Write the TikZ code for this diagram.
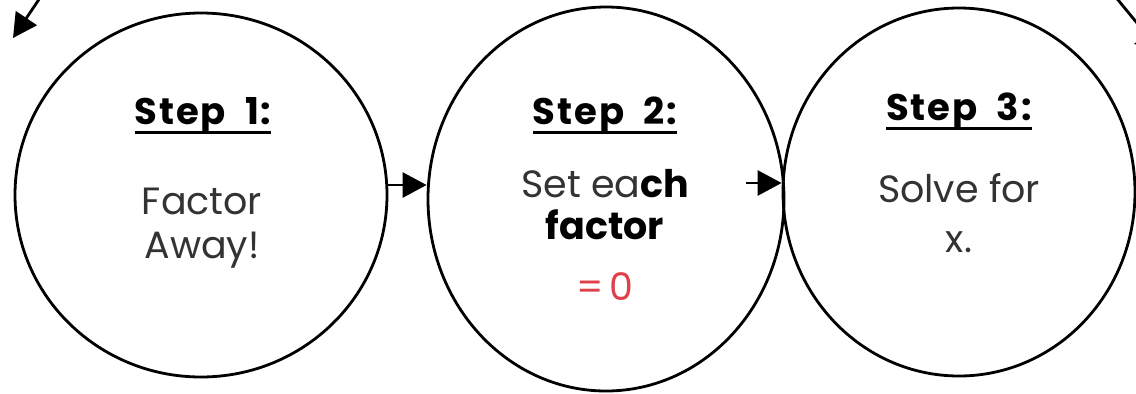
\documentclass[tikz,border=0pt]{standalone}
\usepackage{fontspec}
\setmainfont{Poppins}
\usetikzlibrary{shapes.geometric,arrows.meta}
\definecolor{bodygray}{HTML}{333333}
\definecolor{zerored}{HTML}{E0404A}
% heading underline at a fixed depth below the baseline
\newcommand\stepline[1]{\setbox0\hbox{#1}\rlap{\rule[-9.5bp]{\wd0}{3bp}}\box0}
\begin{document}
\begin{tikzpicture}[x=1bp,y=-1bp,
  stepcircle/.style={draw, ellipse, line width=2.8bp, inner sep=0pt},
  title/.style={anchor=base, font=\fontsize{37bp}{42bp}\selectfont\bfseries\addfontfeatures{LetterSpace=5}},
  body/.style={anchor=base, font=\fontsize{38bp}{44bp}\selectfont, text=bodygray},
  flow/.style={line width=2.8bp, -{Triangle[length=24bp,width=25bp]}},
]
\useasboundingbox (0,0) rectangle (1136,393);
\fill[white] (0,0) rectangle (1136,393);
\clip (0,0) rectangle (1136,393);

% the three step circles
\node[stepcircle, minimum width=372bp, minimum height=364bp] (c1) at (201,195) {};
\node[stepcircle, minimum width=356bp, minimum height=384bp] (c2) at (606,199) {};
\node[stepcircle, minimum width=352bp, minimum height=368bp] (c3) at (959,192) {};

% step 1
\node[title] (t1) at (203,124) {\stepline{Step\ \ 1:}};
\node[body] (b1a) at (202,214) {Factor};
\node[body] (b1b) at (202,258) {Away!};

% step 2
\node[title] (t2) at (605,124) {\stepline{Step\ \ 2:}};
\node[body] (b2a) at (605,197) {Set ea\textbf{\color{black}ch}};
\node[body, text=black] (b2b) at (605,239) {\bfseries factor};
\node[body, text=zerored] (b2c) at (605,300) {=\,0};

% step 3
\node[title] (t3) at (959,120) {\stepline{Step\ \ 3:}};
\node[body] (b3a) at (959,202) {Solve for};
\node[body] (b3b) at (959,252) {x.};

% arrows between the steps
\coordinate (a1s) at (387,185);
\draw[flow] (c1.east |- a1s) -- (c2.west |- a1s);
\coordinate (a2s) at (746,183);
\draw[flow] (a2s) -- (c3.west |- a2s);

% return loop over the top
\coordinate (loopin) at (52,-20);
\coordinate (loopend) at (13,38);
\draw[flow] (loopin) -- (loopend);
\coordinate (loopout) at (1100,-22);
\coordinate (loopturn) at (1160,51);
\draw[line width=2.8bp] (loopout) -- (loopturn);
\coordinate (sidetail) at (1170,36);
\coordinate (sidetip) at (1134,44);
\draw[flow] (sidetail) -- (sidetip);
\end{tikzpicture}
\end{document}
